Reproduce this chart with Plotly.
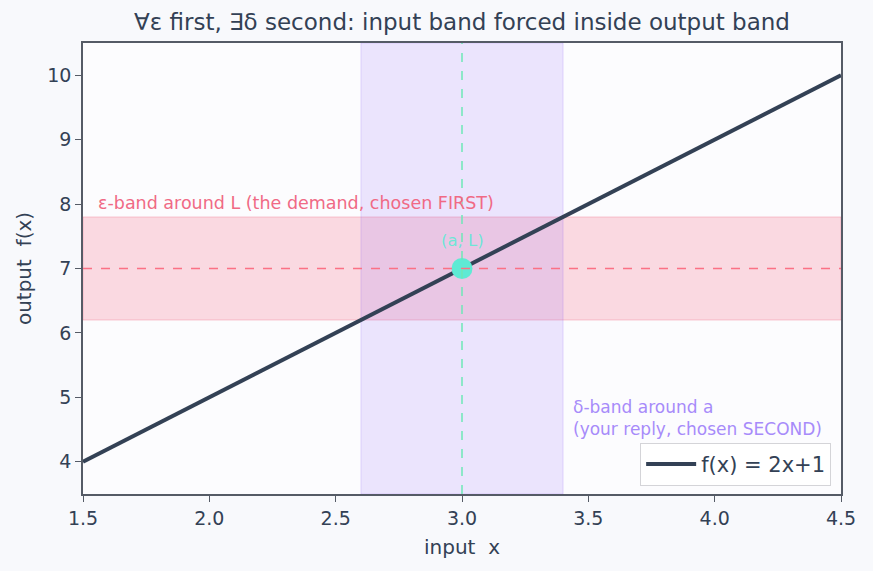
import plotly.graph_objects as go

x_line = [1.5, 4.5]
y_line = [4.0, 10.0]
a_val = 3.0
L_val = 7.0
eps = 0.8
delta = 0.4
x_range = [1.5, 4.5]
y_range = [3.5, 10.5]
x_ticks = [1.5, 2.0, 2.5, 3.0, 3.5, 4.0, 4.5]
y_ticks = [4, 5, 6, 7, 8, 9, 10]

FONT = "DejaVu Sans"
DARK = "#334155"
TEAL = "#5eead4"

fig = go.Figure()

# epsilon band
fig.add_shape(type="rect", xref="x", yref="y", x0=x_range[0], x1=x_range[1],
              y0=L_val - eps, y1=L_val + eps, fillcolor="rgba(244,63,94,0.18)",
              line=dict(color="rgba(244,63,94,0.25)", width=1), layer="below")
# delta band
fig.add_shape(type="rect", xref="x", yref="y", x0=a_val - delta, x1=a_val + delta,
              y0=y_range[0], y1=y_range[1], fillcolor="rgba(139,92,246,0.15)",
              line=dict(color="rgba(139,92,246,0.2)", width=1), layer="below")
# dashed lines
fig.add_shape(type="line", xref="x", yref="y", x0=x_range[0], x1=x_range[1],
              y0=L_val, y1=L_val, line=dict(color="#fb7185", width=1.5, dash="dash"))
fig.add_shape(type="line", xref="x", yref="y", x0=a_val, x1=a_val,
              y0=y_range[0], y1=y_range[1], line=dict(color="#6ee7b7", width=1.5, dash="dash"))

fig.add_trace(go.Scatter(x=x_line, y=y_line, mode="lines",
                         line=dict(color=DARK, width=4), name="f(x) = 2x+1"))
fig.add_trace(go.Scatter(x=[a_val], y=[L_val], mode="markers",
                         marker=dict(color=TEAL, size=21, line=dict(width=0)),
                         showlegend=False))

fig.add_annotation(x=1.55, y=L_val + eps + 0.03, xref="x", yref="y",
                   text="ε-band around L (the demand, chosen FIRST)", showarrow=False,
                   xanchor="left", yanchor="bottom",
                   font=dict(family=FONT, size=17.5, color="#f06a85"))
fig.add_annotation(x=a_val, y=L_val + 0.25, xref="x", yref="y", text="(a, L)",
                   showarrow=False, xanchor="center", yanchor="bottom",
                   font=dict(family=FONT, size=16.5, color="rgba(94,234,212,0.9)"))
fig.add_annotation(x=a_val + delta + 0.03, y=4.33, xref="x", yref="y",
                   text="δ-band around a<br>(your reply, chosen SECOND)", showarrow=False,
                   xanchor="left", yanchor="bottom", align="left",
                   font=dict(family=FONT, size=17, color="#a78bfa"))

fig.update_layout(
    width=873, height=571,
    margin=dict(l=83, r=32, t=43, b=77, autoexpand=False),
    paper_bgcolor="#f8f9fc", plot_bgcolor="#fcfcfe",
    font=dict(family=FONT, size=19, color=DARK),
    title=dict(text="∀ε first, ∃δ second: input band forced inside output band",
               x=0.5, xref="paper", xanchor="center", y=0.962, yanchor="middle",
               font=dict(family=FONT, size=23, color=DARK)),
    legend=dict(x=0.987, y=0.018, xanchor="right", yanchor="bottom",
                bgcolor="rgba(255,255,255,0.93)", bordercolor="#d4d4d8", borderwidth=1,
                itemwidth=50, font=dict(family=FONT, size=21, color=DARK)),
    showlegend=True,
)
fig.update_xaxes(range=x_range, tickvals=x_ticks, ticktext=[f"{v:.1f}" for v in x_ticks],
                 showgrid=False, zeroline=False, ticks="outside", ticklen=6,
                 tickcolor="#555b66", showline=True, linecolor="#555b66", linewidth=1.5,
                 mirror=True, automargin=False,
                 title=dict(text="input  x", font=dict(size=20), standoff=12))
fig.update_yaxes(range=y_range, tickvals=y_ticks, showgrid=False, zeroline=False,
                 ticks="outside", ticklen=6, tickcolor="#555b66", showline=True,
                 linecolor="#555b66", linewidth=1.5, mirror=True, automargin=False,
                 title=dict(text="output  f(x)", font=dict(size=20), standoff=10))

fig.write_html("out.html")
